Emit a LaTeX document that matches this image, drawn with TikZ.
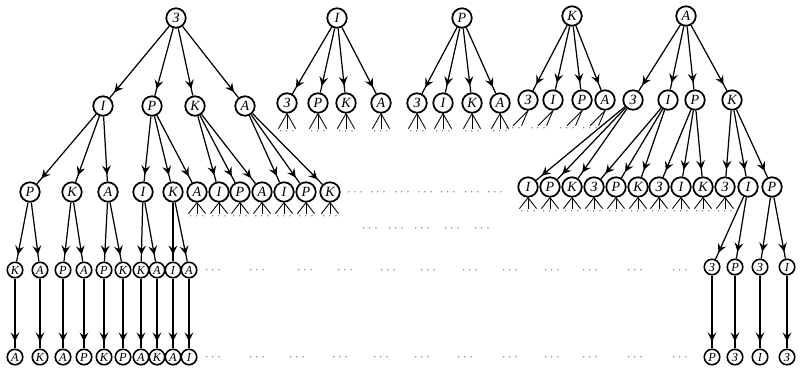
\documentclass[tikz,border=0pt]{standalone}
\usepackage{fontspec}
\setmainfont{Liberation Serif}
\usepackage{tikz}
\usetikzlibrary{arrows, positioning, decorations.markings}

\begin{document}
\begin{tikzpicture}[
    x=0.02cm, y=-0.02cm,
    bignode/.style={circle, draw=black, line width=1pt, inner sep=0pt, minimum size=0.39cm, font=\footnotesize\itshape},
    smallnode/.style={circle, draw=black, line width=0.9pt, inner sep=0pt, minimum size=0.31cm, font=\scriptsize\itshape},
    arrow/.style={line width=0.7pt, postaction={decorate}, decoration={markings, mark=at position -4pt with {\arrow[scale=1.3]{stealth}}}},
    stub/.style={line width=0.5pt},
    dotsnode/.style={inner sep=0pt, font=\tiny}
]
\useasboundingbox (0,0) rectangle (800,372);

% level 1
\node[bignode] (s) at (176,18) {З};
\node[bignode] (i) at (337,18) {I};
\node[bignode] (p) at (462,18) {P};
\node[bignode] (k) at (572,16) {K};
\node[bignode] (a) at (686,16) {A};

% level 2
\node[bignode] (si) at (103,106) {I};
\node[bignode] (sp) at (152,106) {P};
\node[bignode] (sk) at (195,106) {K};
\node[bignode] (sa) at (245,106) {A};
\node[bignode] (iz) at (287,103) {З};
\node[bignode] (ip) at (318,103) {P};
\node[bignode] (ik) at (346,103) {K};
\node[bignode] (ia) at (381,103) {A};
\node[bignode] (pz) at (417,103) {З};
\node[bignode] (pi) at (443,103) {I};
\node[bignode] (pk) at (472,103) {K};
\node[bignode] (pa) at (500,103) {A};
\node[bignode] (kz) at (528,100) {З};
\node[bignode] (ki) at (553,100) {I};
\node[bignode] (kp) at (582,100) {P};
\node[bignode] (ka) at (605,100) {A};
\node[bignode] (az) at (633,100) {З};
\node[bignode] (ai) at (668,100) {I};
\node[bignode] (ap) at (695,100) {P};
\node[bignode] (ak) at (732,100) {K};

% level 3
\node[bignode] (sip) at (30,192) {P};
\node[bignode] (sik) at (72,192) {K};
\node[bignode] (sia) at (108,192) {A};
\node[bignode] (spi) at (143,192) {I};
\node[bignode] (spk) at (173,192) {K};
\node[bignode] (spa) at (197,192) {A};
\node[bignode] (ski) at (219,192) {I};
\node[bignode] (skp) at (240,192) {P};
\node[bignode] (ska) at (262,192) {A};
\node[bignode] (sai) at (284,192) {I};
\node[bignode] (sap) at (306,192) {P};
\node[bignode] (sak) at (330,192) {K};
\node[bignode] (azi) at (528,187) {I};
\node[bignode] (azp) at (550,187) {P};
\node[bignode] (azk) at (572,187) {K};
\node[bignode] (aiz) at (594,187) {З};
\node[bignode] (aip) at (616,187) {P};
\node[bignode] (aik) at (638,187) {K};
\node[bignode] (apz) at (659,187) {З};
\node[bignode] (api) at (681,187) {I};
\node[bignode] (apk) at (703,187) {K};
\node[bignode] (akz) at (725,187) {З};
\node[bignode] (aki) at (748,187) {I};
\node[bignode] (akp) at (772,187) {P};

% level 4
\node[smallnode] (sipk) at (15,270) {K};
\node[smallnode] (sipa) at (40,270) {A};
\node[smallnode] (sikp) at (63,270) {P};
\node[smallnode] (sika) at (84,270) {A};
\node[smallnode] (siap) at (104,270) {P};
\node[smallnode] (siak) at (123,270) {K};
\node[smallnode] (spik) at (141,270) {K};
\node[smallnode] (spia) at (157,270) {A};
\node[smallnode] (spki) at (173,270) {I};
\node[smallnode] (spka) at (189,270) {A};
\node[smallnode] (akiz) at (712,267) {З};
\node[smallnode] (akip) at (735,267) {P};
\node[smallnode] (akpz) at (760,267) {З};
\node[smallnode] (akpi) at (787,267) {I};

% level 5
\node[smallnode] (sipka) at (15,357) {A};
\node[smallnode] (sipak) at (40,357) {K};
\node[smallnode] (sikpa) at (63,357) {A};
\node[smallnode] (sikap) at (84,357) {P};
\node[smallnode] (siapk) at (104,357) {K};
\node[smallnode] (siakp) at (123,357) {P};
\node[smallnode] (spika) at (141,357) {A};
\node[smallnode] (spiak) at (157,357) {K};
\node[smallnode] (spkia) at (173,357) {A};
\node[smallnode] (spkai) at (189,357) {I};
\node[smallnode] (akizp) at (712,357) {P};
\node[smallnode] (akipz) at (735,357) {З};
\node[smallnode] (akpzi) at (760,357) {I};
\node[smallnode] (akpiz) at (787,357) {З};

% connectors
\foreach \u/\v in {s/si, s/sp, s/sk, s/sa, i/iz, i/ip, i/ik, i/ia, p/pz, p/pi, p/pk, p/pa,
    k/kz, k/ki, k/kp, k/ka, a/az, a/ai, a/ap, a/ak,
    si/sip, si/sik, si/sia, sp/spi, sp/spk, sp/spa, sk/ski, sk/skp, sk/ska, sa/sai, sa/sap, sa/sak,
    az/azi, az/azp, az/azk, ai/aiz, ai/aip, ai/aik, ap/apz, ap/api, ap/apk, ak/akz, ak/aki, ak/akp,
    sip/sipk, sip/sipa, sik/sikp, sik/sika, sia/siap, sia/siak, spi/spik, spi/spia, spk/spki, spk/spka,
    aki/akiz, aki/akip, akp/akpz, akp/akpi,
    sipk/sipka, sipa/sipak, sikp/sikpa, sika/sikap, siap/siapk, siak/siakp, spik/spika, spia/spiak, spki/spkia, spka/spkai,
    akiz/akizp, akip/akipz, akpz/akpzi, akpi/akpiz}
    \draw[arrow] (\u) -- (\v);

% stubs to the branches not drawn
\foreach \n in {iz, ip, ik, ia, pz, pi, pk, pa} {
    \node[dotsnode, below=0.3cm of \n] (\n-d) {$\cdots$};
    \draw[stub] (\n.south) -- (\n-d.north west);
    \draw[stub] (\n.south) -- (\n-d.north);
    \draw[stub] (\n.south) -- (\n-d.north east);
}
\foreach \n in {kz, ki, kp, ka} {
    \node[dotsnode, below=0.3cm of \n, xshift=-0.3cm] (\n-d) {$\cdots$};
    \draw[stub] (\n.south) -- (\n-d.north);
    \draw[stub] (\n.south) -- (\n-d.north east);
}
\foreach \n in {spa, ski, skp, ska, sai, sap, sak, azi, azp, azk, aiz, aip, aik, apz, api, apk, akz} {
    \node[dotsnode, below=0.22cm of \n] (\n-d) {$\cdots$};
    \draw[stub] (\n.south) -- (\n-d.north west);
    \draw[stub] (\n.south) -- (\n-d.north);
    \draw[stub] (\n.south) -- (\n-d.north east);
}

% rows of dots
\foreach \x in {355, 378, 402, 425, 448, 472, 495}
    \node[dotsnode] (ra-\x) at (\x,192) {$\cdots$};
\foreach \x in {370, 396, 422, 452, 482}
    \node[dotsnode] (rb-\x) at (\x,228) {$\cdots$};
\foreach \x in {213, 257, 305, 345, 388, 428, 470, 510, 552, 590, 635, 680}
    \node[dotsnode] (rc-\x) at (\x,270) {$\cdots$};
\foreach \x in {213, 257, 297, 340, 381, 422, 465, 510, 552, 590, 635, 680}
    \node[dotsnode] (rd-\x) at (\x,357) {$\cdots$};
\end{tikzpicture}
\end{document}
